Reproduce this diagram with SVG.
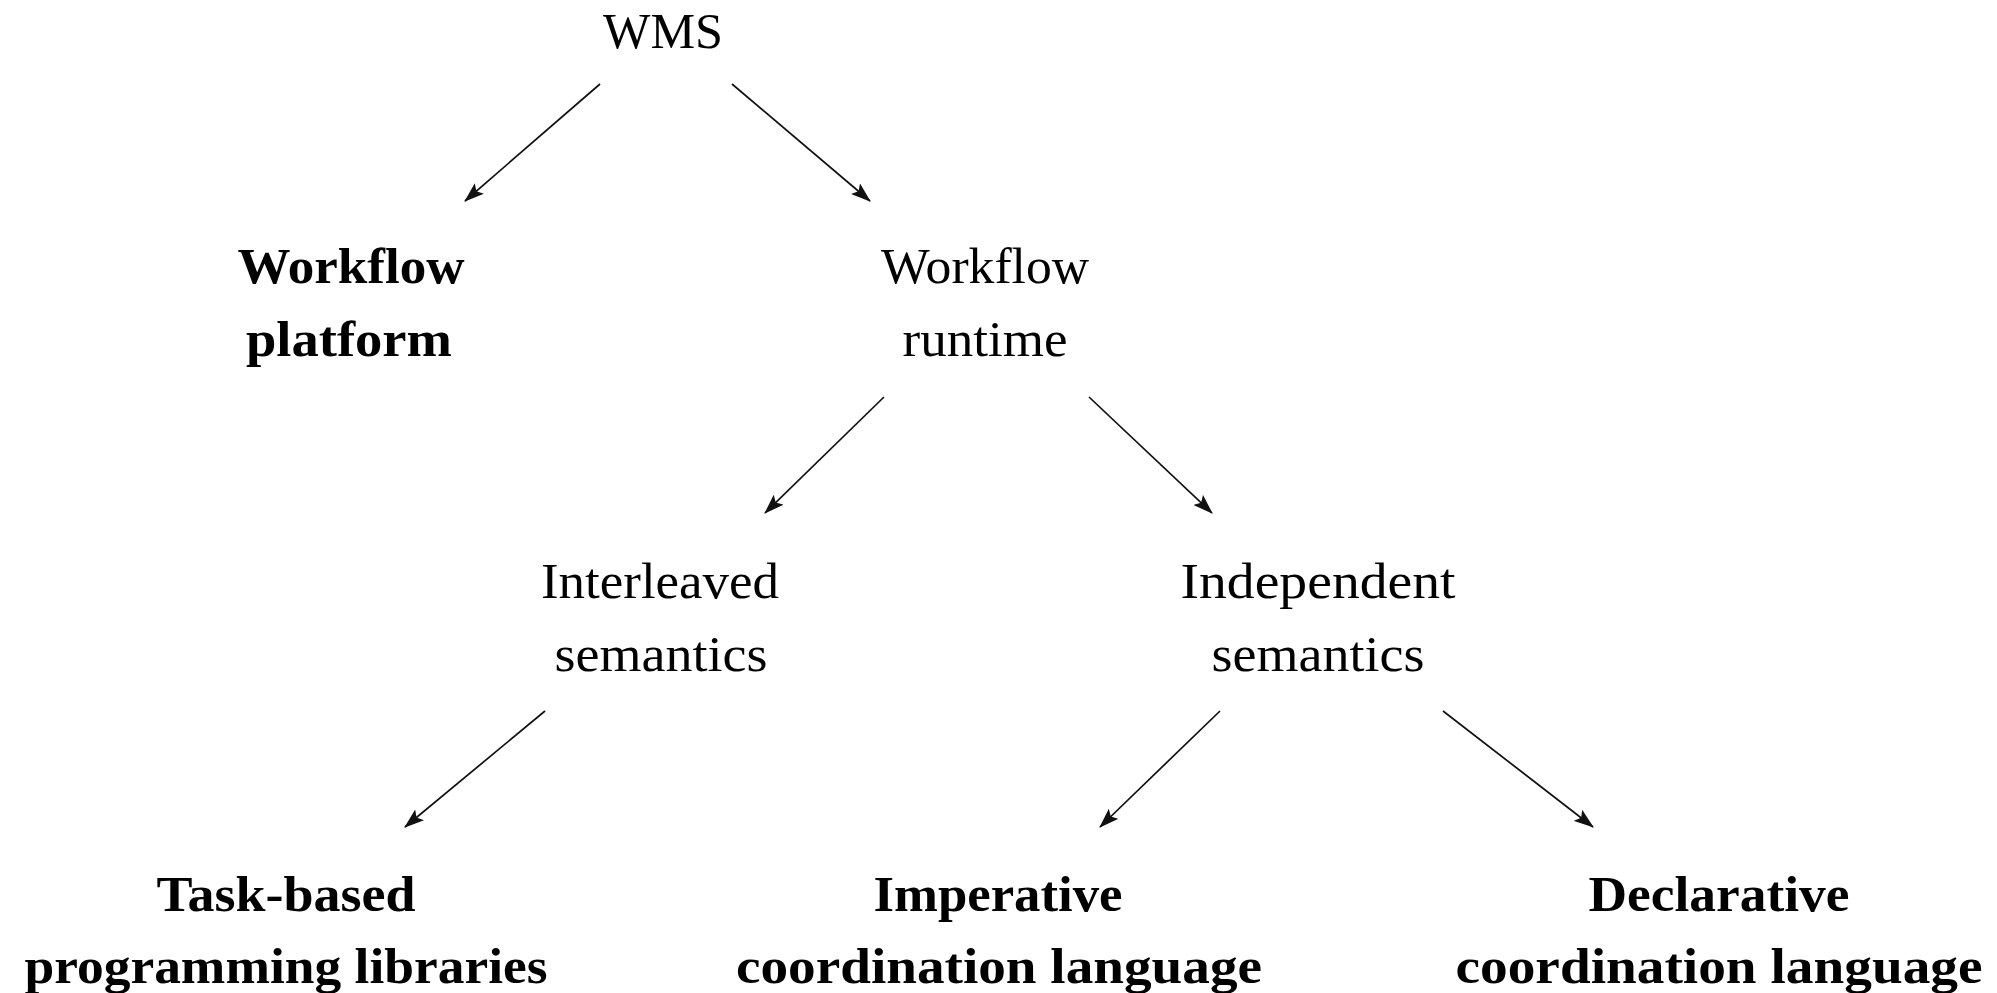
<svg xmlns="http://www.w3.org/2000/svg" width="1997" height="993" viewBox="0 0 1997 993">
  <style>
    text { font-family: "Liberation Serif", "Times New Roman", serif; font-size: 51px; fill: #000; text-anchor: middle; }
    .b { font-weight: bold; }
    .edge { stroke: #111; stroke-width: 1.7; fill: none; marker-end: url(#arrow); }
  </style>
  <defs>
    <marker id="arrow" markerUnits="userSpaceOnUse" markerWidth="20" markerHeight="14" viewBox="0 0 20 14" refX="19" refY="7" orient="auto">
      <path d="M0,0 L20,7 L0,14 L4,7 Z" fill="#111"/>
    </marker>
  </defs>
  <rect width="1997" height="993" fill="#fff"/>

  <!-- taxonomy nodes -->
  <g id="wms">
    <text x="663" y="48" textLength="120" lengthAdjust="spacingAndGlyphs">WMS</text>
  </g>
  <g id="workflow-platform">
    <text class="b" x="351" y="283" textLength="227" lengthAdjust="spacingAndGlyphs">Workflow</text>
    <text class="b" x="349" y="356" textLength="206" lengthAdjust="spacingAndGlyphs">platform</text>
  </g>
  <g id="workflow-runtime">
    <text x="985" y="283" textLength="208" lengthAdjust="spacingAndGlyphs">Workflow</text>
    <text x="985" y="356" textLength="165" lengthAdjust="spacingAndGlyphs">runtime</text>
  </g>
  <g id="interleaved-semantics">
    <text x="660" y="598" textLength="238" lengthAdjust="spacingAndGlyphs">Interleaved</text>
    <text x="661" y="671" textLength="213" lengthAdjust="spacingAndGlyphs">semantics</text>
  </g>
  <g id="independent-semantics">
    <text x="1318" y="598" textLength="275" lengthAdjust="spacingAndGlyphs">Independent</text>
    <text x="1318" y="671" textLength="213" lengthAdjust="spacingAndGlyphs">semantics</text>
  </g>
  <g id="task-based">
    <text class="b" x="286" y="911" textLength="259" lengthAdjust="spacingAndGlyphs">Task-based</text>
    <text class="b" x="286" y="983" textLength="523" lengthAdjust="spacingAndGlyphs">programming libraries</text>
  </g>
  <g id="imperative">
    <text class="b" x="998" y="911" textLength="249" lengthAdjust="spacingAndGlyphs">Imperative</text>
    <text class="b" x="999" y="983" textLength="526" lengthAdjust="spacingAndGlyphs">coordination language</text>
  </g>
  <g id="declarative">
    <text class="b" x="1719" y="911" textLength="261" lengthAdjust="spacingAndGlyphs">Declarative</text>
    <text class="b" x="1719" y="983" textLength="527" lengthAdjust="spacingAndGlyphs">coordination language</text>
  </g>

  <!-- connectors -->
  <g id="connectors">
    <line class="edge" x1="600" y1="84" x2="465" y2="201"/>
    <line class="edge" x1="732" y1="84" x2="870" y2="201"/>
    <line class="edge" x1="884" y1="397" x2="765" y2="513"/>
    <line class="edge" x1="1089" y1="397" x2="1212" y2="513"/>
    <line class="edge" x1="545" y1="711" x2="405" y2="827"/>
    <line class="edge" x1="1220" y1="711" x2="1100" y2="827"/>
    <line class="edge" x1="1443" y1="711" x2="1593" y2="827"/>
  </g>
</svg>
